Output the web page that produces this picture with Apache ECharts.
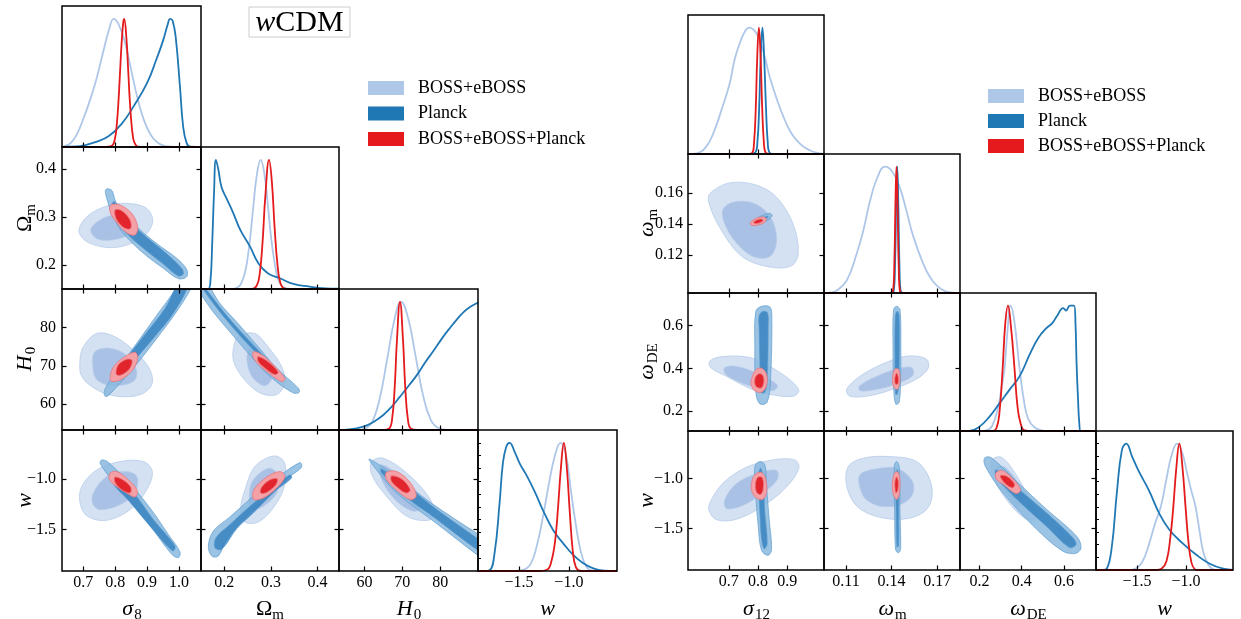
<!DOCTYPE html>
<html><head><meta charset="utf-8">
<script src="https://cdn.jsdelivr.net/npm/echarts@6.0.0/dist/echarts.min.js"></script>
<style>html,body{margin:0;padding:0;background:#fff}#c{width:1241px;height:619px}</style>
</head><body><div id="c"></div>
<script>
// ---------------- axis ranges & ticks ----------------
const s8Range = [0.633, 1.069], s8Ticks = [0.7, 0.8, 0.9, 1.0], s8Labels = ['0.7', '0.8', '0.9', '1.0'];
const OmRange = [0.15, 0.446], OmTicks = [0.2, 0.3, 0.4], OmLabels = ['0.2', '0.3', '0.4'];
const H0Range = [53.3, 90.0], H0Ticks = [60, 70, 80], H0Labels = ['60', '70', '80'];
const wRangeL = [-1.91, -0.518], wTicks = [-1.5, -1.0], wLabels = ['\u22121.5', '\u22121.0'];
const s12Range = [0.56, 1.026], s12Ticks = [0.7, 0.8, 0.9], s12Labels = ['0.7', '0.8', '0.9'];
const wmRange = [0.0955, 0.185];
const wmXTicks = [0.11, 0.14, 0.17], wmXLabels = ['0.11', '0.14', '0.17'];
const wmYTicks = [0.12, 0.14, 0.16], wmYLabels = ['0.12', '0.14', '0.16'];
const wDERange = [0.108, 0.752], wDETicks = [0.2, 0.4, 0.6], wDELabels = ['0.2', '0.4', '0.6'];
const wRangeR = [-1.92, -0.52];
const densityRange = [0, 1.1];
const wDensityTicks = [0.1, 0.2, 0.3, 0.4, 0.5, 0.6, 0.7, 0.8, 0.9, 1.0];

const legendLabels = ['BOSS+eBOSS', 'Planck', 'BOSS+eBOSS+Planck'];
const titleParts = ['w', 'CDM'];

// ---------------- 1D marginals (left: wCDM sigma8 set) ----------------
const s8_boss = [[0.633,0],[0.64,0.005],[0.66,0.03],[0.68,0.10],[0.70,0.22],[0.72,0.36],[0.74,0.52],[0.76,0.72],[0.78,0.91],[0.795,1.0],[0.81,0.96],[0.83,0.82],[0.85,0.60],[0.87,0.38],[0.89,0.21],[0.91,0.10],[0.93,0.04],[0.95,0.012],[0.97,0.003],[1.0,0],[1.069,0]];
const s8_planck = [[0.633,0],[0.68,0.004],[0.70,0.012],[0.74,0.04],[0.78,0.085],[0.82,0.18],[0.857,0.315],[0.90,0.50],[0.93,0.69],[0.95,0.83],[0.965,0.96],[0.972,1.0],[0.98,0.985],[0.99,0.85],[1.003,0.47],[1.013,0.16],[1.024,0.03],[1.035,0.003],[1.069,0]];
const s8_red = [[0.633,0],[0.77,0],[0.79,0.01],[0.80,0.078],[0.805,0.18],[0.81,0.35],[0.815,0.58],[0.82,0.81],[0.825,0.97],[0.828,1.0],[0.835,0.85],[0.84,0.63],[0.845,0.39],[0.85,0.21],[0.855,0.09],[0.86,0.036],[0.87,0.003],[0.89,0],[1.069,0]];

const Om_boss = [[0.15,0],[0.215,0],[0.225,0.006],[0.235,0.035],[0.245,0.14],[0.25,0.24],[0.255,0.38],[0.262,0.63],[0.27,0.89],[0.278,1.0],[0.286,0.89],[0.294,0.63],[0.30,0.41],[0.308,0.20],[0.316,0.07],[0.326,0.015],[0.34,0],[0.446,0]];
const Om_planck = [[0.15,0],[0.165,0],[0.170,0.05],[0.174,0.35],[0.178,0.75],[0.182,1.0],[0.187,0.93],[0.194,0.79],[0.205,0.70],[0.219,0.59],[0.234,0.46],[0.255,0.33],[0.273,0.20],[0.294,0.12],[0.319,0.083],[0.348,0.039],[0.383,0.018],[0.41,0.006],[0.446,0.002]];
const Om_red = [[0.15,0],[0.26,0],[0.27,0.03],[0.276,0.12],[0.282,0.36],[0.288,0.72],[0.296,1.0],[0.302,0.83],[0.308,0.47],[0.314,0.19],[0.32,0.05],[0.328,0.005],[0.34,0],[0.446,0]];

const H0_boss = [[53.3,0],[58,0],[60,0.01],[62,0.06],[64,0.24],[66,0.55],[68,0.87],[69.7,1.0],[71.5,0.88],[73.5,0.58],[75.5,0.27],[77.5,0.08],[79.5,0.015],[82,0],[90,0]];
const H0_planck = [[53.3,0],[56,0.004],[59.7,0.026],[62.5,0.065],[65,0.117],[67.3,0.185],[69.4,0.26],[71.7,0.345],[73.9,0.43],[76,0.525],[78.3,0.62],[80.5,0.715],[82.7,0.80],[84.5,0.865],[86.2,0.92],[88.2,0.965],[90,0.995]];
const H0_red = [[53.3,0],[65,0],[66.5,0.01],[67.3,0.08],[68,0.33],[68.6,0.70],[69.4,1.0],[70.2,0.70],[70.8,0.33],[71.5,0.08],[72.3,0.01],[74,0],[90,0]];

const wL_boss = [[-1.91,0],[-1.55,0],[-1.45,0.01],[-1.38,0.06],[-1.32,0.2],[-1.26,0.42],[-1.20,0.68],[-1.14,0.90],[-1.083,1.0],[-1.03,0.91],[-0.98,0.63],[-0.93,0.36],[-0.88,0.15],[-0.83,0.04],[-0.78,0.005],[-0.7,0],[-0.518,0]];
const wL_planck = [[-1.91,0],[-1.85,0],[-1.795,0.005],[-1.744,0.14],[-1.694,0.53],[-1.661,0.84],[-1.627,0.97],[-1.594,1.0],[-1.543,0.93],[-1.493,0.84],[-1.426,0.75],[-1.342,0.62],[-1.26,0.475],[-1.158,0.32],[-1.057,0.216],[-0.957,0.125],[-0.856,0.06],[-0.756,0.02],[-0.65,0.003],[-0.518,0]];
const wL_red = [[-1.91,0],[-1.3,0],[-1.22,0.01],[-1.18,0.06],[-1.14,0.22],[-1.11,0.48],[-1.08,0.80],[-1.05,1.0],[-1.02,0.80],[-0.99,0.45],[-0.96,0.15],[-0.93,0.03],[-0.89,0.002],[-0.85,0],[-0.518,0]];

// ---------------- 1D marginals (right: sigma12 set) ----------------
const s12_boss = [[0.56,0],[0.59,0.005],[0.62,0.05],[0.646,0.16],[0.675,0.35],[0.703,0.56],[0.72,0.75],[0.738,0.88],[0.755,0.97],[0.77,1.0],[0.79,0.97],[0.806,0.90],[0.825,0.75],[0.84,0.61],[0.862,0.45],[0.886,0.30],[0.91,0.18],[0.932,0.11],[0.955,0.06],[0.977,0.03],[1.0,0.01],[1.026,0]];
const s12_planck = [[0.56,0],[0.77,0],[0.79,0.01],[0.798,0.10],[0.804,0.38],[0.809,0.76],[0.815,1.0],[0.821,0.76],[0.827,0.38],[0.833,0.10],[0.84,0.01],[0.86,0],[1.026,0]];
const s12_red = [[0.56,0],[0.76,0],[0.78,0.01],[0.786,0.08],[0.792,0.35],[0.797,0.75],[0.803,1.0],[0.809,0.75],[0.814,0.38],[0.82,0.09],[0.826,0.01],[0.84,0],[1.026,0]];

const wm_boss = [[0.0955,0],[0.100,0.005],[0.104,0.02],[0.1105,0.10],[0.117,0.31],[0.1215,0.50],[0.1258,0.73],[0.1305,0.91],[0.1356,1.0],[0.1405,0.96],[0.1455,0.83],[0.150,0.64],[0.1542,0.45],[0.1608,0.23],[0.165,0.13],[0.1696,0.06],[0.175,0.015],[0.18,0.003],[0.185,0]];
const wm_planck = [[0.0955,0],[0.139,0],[0.1413,0.01],[0.1423,0.25],[0.143,0.72],[0.1437,1.0],[0.1444,0.72],[0.1451,0.25],[0.1461,0.01],[0.15,0],[0.185,0]];
const wm_red = [[0.0955,0],[0.138,0],[0.1408,0.01],[0.1418,0.25],[0.1425,0.70],[0.1432,1.0],[0.1439,0.70],[0.1446,0.25],[0.1456,0.01],[0.149,0],[0.185,0]];

const wDE_boss = [[0.108,0],[0.2,0],[0.232,0.005],[0.26,0.04],[0.29,0.2],[0.305,0.35],[0.319,0.5],[0.333,0.8],[0.348,1.0],[0.365,0.88],[0.39,0.5],[0.41,0.25],[0.43,0.1],[0.46,0.03],[0.494,0.005],[0.52,0],[0.752,0]];
const wDE_planck = [[0.108,0],[0.152,0],[0.2,0.035],[0.248,0.115],[0.295,0.22],[0.343,0.33],[0.39,0.435],[0.438,0.61],[0.478,0.74],[0.517,0.82],[0.545,0.86],[0.565,0.91],[0.597,0.98],[0.61,0.96],[0.629,1.0],[0.648,1.0],[0.655,0.85],[0.66,0.54],[0.667,0.25],[0.673,0.06],[0.68,0],[0.752,0]];
const wDE_red = [[0.108,0],[0.26,0],[0.28,0.02],[0.295,0.15],[0.31,0.5],[0.322,0.85],[0.335,1.0],[0.35,0.82],[0.366,0.5],[0.38,0.2],[0.395,0.06],[0.414,0.005],[0.45,0],[0.752,0]];

const wR_boss = [[-1.92,0],[-1.6,0],[-1.52,0.01],[-1.45,0.06],[-1.38,0.2],[-1.32,0.36],[-1.258,0.5],[-1.20,0.72],[-1.15,0.90],[-1.092,1.0],[-1.04,0.93],[-0.99,0.77],[-0.95,0.64],[-0.903,0.5],[-0.86,0.3],[-0.82,0.13],[-0.77,0.04],[-0.724,0.005],[-0.68,0],[-0.52,0]];
const wR_planck = [[-1.92,0],[-1.85,0.001],[-1.81,0.01],[-1.759,0.18],[-1.707,0.61],[-1.655,0.95],[-1.61,1.0],[-1.552,0.90],[-1.482,0.78],[-1.379,0.63],[-1.275,0.45],[-1.172,0.32],[-1.034,0.21],[-0.895,0.12],[-0.758,0.05],[-0.62,0.01],[-0.52,0]];
const wR_red = [[-1.92,0],[-1.3,0],[-1.25,0.01],[-1.2,0.07],[-1.16,0.26],[-1.13,0.5],[-1.1,0.8],[-1.068,1.0],[-1.035,0.8],[-1.005,0.5],[-0.975,0.22],[-0.945,0.06],[-0.913,0.008],[-0.88,0],[-0.52,0]];

// ---------------- 2D contours [95%, 68%] (left) ----------------
const L_s8_Om = {
  boss: [[[0.6865,0.2694],[0.7107,0.3006],[0.7733,0.3229],[0.836,0.3285],[0.8987,0.318],[0.9175,0.2902],[0.888,0.259],[0.8047,0.2369],[0.721,0.2452]],
         [[0.7232,0.2729],[0.7523,0.2938],[0.7994,0.3042],[0.8464,0.2938],[0.8567,0.2729],[0.815,0.2556],[0.747,0.2535]]],
  planck: [[[0.7753,0.359],[0.790,0.3548],[0.7994,0.3354],[0.8172,0.3131],[0.8517,0.2902],[0.888,0.2673],[0.9404,0.2396],[0.9928,0.214],[1.024,0.191],[1.024,0.1756],[0.9978,0.1715],[0.9508,0.1931],[0.8987,0.2188],[0.8567,0.2438],[0.8172,0.2729],[0.789,0.3077],[0.7733,0.339],[0.769,0.3548]],
           [[0.794,0.3319],[0.8047,0.3271],[0.8464,0.2902],[0.8987,0.2577],[0.9561,0.2265],[1.0084,0.1931],[1.0135,0.1812],[0.9978,0.1771],[0.9508,0.2021],[0.888,0.2348],[0.8411,0.2625],[0.7994,0.2972],[0.79,0.3229]]],
  red: [[[0.7858,0.325],[0.815,0.325],[0.8517,0.3077],[0.8704,0.2798],[0.862,0.2625],[0.836,0.2673],[0.8025,0.2902],[0.7837,0.311]],
        [[0.7994,0.3146],[0.8204,0.3131],[0.8464,0.2938],[0.8486,0.2764],[0.8307,0.2764],[0.8047,0.2938]]]
};
const L_s8_H0 = {
  boss: [[[0.70,74.97],[0.742,78.43],[0.7994,77.56],[0.8674,73.26],[0.909,68.97],[0.9144,65.1],[0.8777,62.5],[0.8047,62.09],[0.742,63.8],[0.695,67.25],[0.6896,71.55]],
         [[0.7366,73.7],[0.7837,74.55],[0.8411,72.4],[0.8674,68.5],[0.8567,65.95],[0.794,64.85],[0.742,66.4],[0.7295,70.26]]],
  planck: [[[0.765,62.7],[0.771,64.5],[0.815,69.83],[0.867,75.84],[0.930,83.14],[0.993,90.5],[1.008,93.9],[1.055,93.9],[1.034,89.6],[0.988,83.58],[0.930,77.13],[0.878,71.55],[0.820,65.95],[0.784,62.7],[0.771,62.0]],
           [[0.83,68.5],[0.826,70.5],[0.885,77.3],[0.955,84.8],[1.0,91.5],[1.03,91.5],[0.985,84.0],[0.918,77.0],[0.856,70.8],[0.842,68.3]]],
  red: [[[0.7837,66.75],[0.794,69.66],[0.8276,72.24],[0.862,73.53],[0.8704,71.98],[0.8547,68.97],[0.8203,66.5],[0.789,65.9]],
        [[0.8025,67.94],[0.8097,70.26],[0.836,71.7],[0.8527,71.38],[0.8442,69.14],[0.815,67.5]]]
};
const L_s8_w = {
  boss: [[[0.695,-1.075],[0.742,-0.912],[0.815,-0.830],[0.888,-0.830],[0.9163,-0.928],[0.8987,-1.108],[0.8464,-1.304],[0.7733,-1.409],[0.7126,-1.369],[0.6896,-1.238]],
         [[0.7313,-1.14],[0.7733,-0.977],[0.8307,-0.928],[0.8674,-0.977],[0.862,-1.14],[0.815,-1.255],[0.7523,-1.304],[0.7295,-1.245]]],
  planck: [[[0.7577,-0.814],[0.7753,-0.830],[0.8464,-1.049],[0.909,-1.288],[0.9665,-1.549],[1.0031,-1.722],[0.9978,-1.778],[0.9771,-1.745],[0.9144,-1.484],[0.8464,-1.222],[0.789,-1.01],[0.7523,-0.846]],
           [[0.7962,-0.961],[0.8567,-1.134],[0.9194,-1.402],[0.9875,-1.664],[0.9802,-1.712],[0.909,-1.467],[0.8411,-1.212],[0.7921,-1.042]]],
  red: [[[0.7837,-0.944],[0.8047,-0.928],[0.8411,-1.01],[0.8693,-1.118],[0.862,-1.18],[0.836,-1.14],[0.7994,-1.065],[0.7816,-1.003]],
        [[0.7994,-0.983],[0.8235,-1.01],[0.8486,-1.082],[0.8464,-1.14],[0.8203,-1.108],[0.7994,-1.036]]]
};
const L_Om_H0 = {
  boss: [[[0.2336,78.0],[0.2657,78.4],[0.2908,75.4],[0.3229,69.8],[0.33,65.5],[0.3122,62.5],[0.2764,62.96],[0.2407,66.8],[0.2193,71.5],[0.2229,76.3]],
         [[0.2535,74.5],[0.2728,74.1],[0.2942,70.7],[0.3015,66.8],[0.2872,64.85],[0.2621,66.8],[0.2493,70.7]]],
  planck: [[[0.3585,64.25],[0.3606,63.1],[0.3478,62.96],[0.2979,67.25],[0.255,72.8],[0.2122,78.8],[0.1764,84.0],[0.1516,88.3],[0.1409,90.4],[0.148,92.2],[0.1657,90.9],[0.1908,86.2],[0.2266,81.4],[0.2694,75.4],[0.3122,69.4]],
           [[0.3193,68.1],[0.3229,67.1],[0.2657,73.7],[0.2051,81.86],[0.1587,89.2],[0.1516,91.3],[0.2051,83.1],[0.2621,75.4]]],
  red: [[[0.2636,73.7],[0.2835,72.6],[0.3122,69.4],[0.33,66.6],[0.3229,65.9],[0.2979,67.9],[0.2707,70.7],[0.2608,72.6]],
        [[0.2728,72.4],[0.2979,70.7],[0.3156,68.3],[0.3086,67.7],[0.2872,69.4],[0.2728,71.1]]]
};
const L_Om_w = {
  boss: [[[0.2657,-0.879],[0.305,-0.775],[0.3278,-0.83],[0.33,-1.042],[0.3122,-1.238],[0.2764,-1.418],[0.2443,-1.428],[0.2351,-1.304],[0.2443,-1.108]],
         [[0.2621,-1.01],[0.2964,-0.895],[0.3156,-0.971],[0.3122,-1.14],[0.2835,-1.271],[0.2587,-1.297],[0.2535,-1.173]]],
  planck: [[[0.173,-1.762],[0.1657,-1.664],[0.1764,-1.516],[0.2122,-1.376],[0.2621,-1.173],[0.3122,-0.993],[0.3621,-0.84],[0.3657,-0.885],[0.3407,-0.977],[0.2908,-1.19],[0.2407,-1.402],[0.2051,-1.598],[0.1871,-1.762]],
           [[0.18,-1.68],[0.1822,-1.582],[0.2122,-1.451],[0.255,-1.271],[0.305,-1.082],[0.3407,-0.961],[0.3443,-0.993],[0.3086,-1.124],[0.2621,-1.337],[0.2266,-1.493],[0.1944,-1.696]]],
  red: [[[0.2657,-1.091],[0.2908,-0.983],[0.3193,-0.928],[0.33,-0.977],[0.3122,-1.091],[0.2835,-1.19],[0.2636,-1.206],[0.2608,-1.157]],
        [[0.28,-1.082],[0.2979,-1.01],[0.3135,-1.0],[0.3107,-1.059],[0.2908,-1.134],[0.2779,-1.14]]]
};
const L_H0_w = {
  boss: [[[61.96,-0.83],[65.03,-0.797],[71.2,-0.944],[76.9,-1.173],[78.44,-1.337],[76.9,-1.409],[71.2,-1.369],[65.5,-1.157],[61.96,-0.961]],
         [[64.15,-0.863],[68.56,-0.944],[73.4,-1.124],[75.2,-1.271],[72.96,-1.32],[68.1,-1.206],[64.6,-1.01]]],
  planck: [[[61.3,-0.804],[68.56,-0.977],[77.4,-1.232],[90.2,-1.549],[92.8,-1.598],[92.8,-1.827],[90.2,-1.762],[78.25,-1.418],[68.56,-1.14],[61.96,-0.853]],
           [[64.5,-0.9],[72.1,-1.095],[79.15,-1.304],[90.2,-1.598],[92.8,-1.664],[92.8,-1.762],[90.2,-1.712],[78.25,-1.376],[71.2,-1.185],[64.5,-0.94]]],
  red: [[[65.74,-0.938],[68.56,-0.928],[72.1,-1.036],[73.7,-1.167],[72.1,-1.206],[68.56,-1.114],[65.9,-1.01]],
        [[67.2,-0.971],[69.9,-1.003],[72.1,-1.108],[71.0,-1.14],[68.4,-1.075],[67.06,-1.016]]]
};

// ---------------- 2D contours [95%, 68%] (right) ----------------
const R_s12_wm = {
  boss: [[[0.635,0.1595],[0.7034,0.1664],[0.7948,0.1649],[0.8633,0.1572],[0.9203,0.1398],[0.9374,0.1201],[0.9089,0.1125],[0.8175,0.1131],[0.7377,0.1201],[0.6692,0.1376],[0.6325,0.1529]],
         [[0.6805,0.1496],[0.7263,0.1544],[0.7948,0.1525],[0.8462,0.1431],[0.8633,0.1289],[0.8404,0.119],[0.7832,0.119],[0.7263,0.1277],[0.6863,0.1398]]],
  planck: [[[0.7742,0.1402],[0.8005,0.1441],[0.8381,0.1468],[0.8484,0.1452],[0.8233,0.1413],[0.7856,0.1391]],
           [[0.789,0.1415],[0.8175,0.1441],[0.8346,0.1448],[0.8199,0.142],[0.7948,0.1402]]],
  red: [[[0.7742,0.1409],[0.8005,0.1441],[0.8267,0.1439],[0.8233,0.1411],[0.7948,0.1391],[0.7765,0.1393]],
        [[0.7856,0.1413],[0.8062,0.1431],[0.8175,0.1424],[0.8062,0.1407],[0.789,0.1402]]]
};
const R_s12_wDE = {
  boss: [[[0.635,0.4352],[0.6805,0.4556],[0.7719,0.4509],[0.8404,0.4093],[0.9089,0.3472],[0.9397,0.2963],[0.9203,0.2704],[0.8518,0.2764],[0.7832,0.2995],[0.6921,0.363],[0.6373,0.4046]],
         [[0.6863,0.4046],[0.7263,0.4093],[0.7948,0.3782],[0.8655,0.3227],[0.8518,0.2963],[0.789,0.312],[0.7263,0.3426],[0.6863,0.3768]]],
  planck: [[[0.7925,0.6667],[0.812,0.69],[0.8404,0.687],[0.8473,0.6435],[0.8428,0.3505],[0.8313,0.2426],[0.8062,0.2347],[0.7925,0.2889],[0.789,0.5046]],
           [[0.8039,0.6468],[0.8175,0.6667],[0.8324,0.6593],[0.8346,0.5972],[0.8313,0.3505],[0.8233,0.2889],[0.8096,0.2889],[0.8062,0.4278],[0.8039,0.582]]],
  red: [[[0.7777,0.3505],[0.7925,0.3935],[0.812,0.4014],[0.8291,0.3736],[0.8291,0.3195],[0.812,0.2889],[0.789,0.2963],[0.7765,0.3227]],
        [[0.789,0.3505],[0.8005,0.3736],[0.8154,0.369],[0.8199,0.3352],[0.8108,0.3088],[0.7925,0.3167]]]
};
const R_s12_w = {
  boss: [[[0.635,-1.242],[0.6805,-1.043],[0.7606,-0.884],[0.8518,-0.811],[0.926,-0.811],[0.9397,-0.894],[0.8976,-1.083],[0.8175,-1.275],[0.7263,-1.408],[0.6579,-1.414],[0.6325,-1.325]],
         [[0.6863,-1.209],[0.7263,-1.05],[0.7948,-0.95],[0.8633,-0.917],[0.8655,-1.01],[0.8175,-1.142],[0.749,-1.268],[0.6921,-1.301]]],
  planck: [[[0.789,-0.878],[0.8062,-0.828],[0.8233,-0.861],[0.8291,-1.076],[0.8381,-1.408],[0.8462,-1.713],[0.8346,-1.772],[0.812,-1.723],[0.8005,-1.474],[0.7925,-1.176]],
           [[0.8005,-0.96],[0.8096,-0.894],[0.8175,-1.01],[0.8233,-1.341],[0.8313,-1.656],[0.8209,-1.706],[0.812,-1.606],[0.8062,-1.341],[0.8017,-1.076]]],
  red: [[[0.7777,-1.043],[0.789,-0.96],[0.812,-0.937],[0.8267,-1.01],[0.8291,-1.142],[0.8154,-1.209],[0.7925,-1.192],[0.7777,-1.116]],
        [[0.7914,-1.043],[0.8005,-0.983],[0.8154,-0.993],[0.8175,-1.109],[0.8085,-1.159],[0.7948,-1.136]]]
};
const R_wm_wDE = {
  boss: [[[0.1105,0.3042],[0.1214,0.3736],[0.1389,0.4352],[0.152,0.4583],[0.163,0.443],[0.164,0.4],[0.1564,0.3505],[0.1411,0.3042],[0.1258,0.2731],[0.1126,0.2704]],
         [[0.1187,0.3167],[0.1302,0.363],[0.1433,0.3968],[0.1531,0.4046],[0.1538,0.3659],[0.1411,0.3227],[0.1279,0.2995],[0.1192,0.2963]]],
  planck: [[[0.1413,0.6745],[0.1433,0.69],[0.1455,0.6745],[0.1461,0.5046],[0.1459,0.3505],[0.145,0.2426],[0.1428,0.2333],[0.1415,0.2889],[0.1409,0.5046]],
           [[0.1424,0.6435],[0.1437,0.6667],[0.145,0.6435],[0.1448,0.3505],[0.1439,0.281],[0.1426,0.281],[0.1422,0.4278]]],
  red: [[[0.1407,0.3659],[0.1422,0.3968],[0.1444,0.3968],[0.1455,0.3659],[0.145,0.3195],[0.1433,0.3011],[0.1411,0.3195]],
        [[0.1422,0.3582],[0.1433,0.3782],[0.1444,0.3582],[0.1441,0.3273],[0.1424,0.3273]]]
};
const R_wm_w = {
  boss: [[[0.1115,-0.878],[0.1214,-0.794],[0.1389,-0.778],[0.1564,-0.828],[0.1652,-1.01],[0.1663,-1.209],[0.1608,-1.341],[0.1476,-1.408],[0.1302,-1.381],[0.117,-1.275],[0.1105,-1.076]],
         [[0.1192,-0.96],[0.1302,-0.901],[0.1433,-0.894],[0.1531,-1.01],[0.1542,-1.142],[0.1476,-1.248],[0.1345,-1.282],[0.1236,-1.215],[0.1192,-1.093]]],
  planck: [[[0.1417,-0.878],[0.1433,-0.828],[0.145,-0.878],[0.1455,-1.341],[0.1459,-1.713],[0.1444,-1.746],[0.1426,-1.713],[0.142,-1.341]],
           [[0.1428,-0.96],[0.1437,-0.911],[0.1446,-0.96],[0.1446,-1.341],[0.1446,-1.673],[0.1435,-1.689],[0.143,-1.341]]],
  red: [[[0.1407,-1.01],[0.1422,-0.937],[0.1444,-0.937],[0.1455,-1.026],[0.145,-1.159],[0.1433,-1.209],[0.1411,-1.159],[0.1404,-1.076]],
        [[0.1422,-1.026],[0.1433,-0.983],[0.1444,-1.026],[0.1441,-1.116],[0.1428,-1.142],[0.1422,-1.093]]]
};
const R_wDE_w = {
  boss: [[[0.2603,-0.811],[0.3032,-0.784],[0.3587,-0.911],[0.4222,-1.142],[0.473,-1.341],[0.4619,-1.414],[0.4095,-1.391],[0.327,-1.209],[0.2635,-0.977]],
         [[0.2873,-0.878],[0.327,-0.894],[0.3825,-1.043],[0.4143,-1.209],[0.3825,-1.282],[0.3397,-1.176],[0.2921,-1.01]]],
  planck: [[[0.2238,-0.794],[0.2557,-0.788],[0.3748,-1.026],[0.5175,-1.308],[0.6605,-1.58],[0.681,-1.699],[0.6524,-1.755],[0.589,-1.723],[0.4538,-1.474],[0.311,-1.142],[0.2286,-0.878]],
           [[0.2795,-0.911],[0.4063,-1.142],[0.5333,-1.374],[0.6444,-1.6],[0.6571,-1.666],[0.6252,-1.693],[0.5175,-1.48],[0.3905,-1.235],[0.2795,-0.983]]],
  red: [[[0.2795,-0.937],[0.311,-0.92],[0.3667,-1.02],[0.3952,-1.116],[0.3714,-1.149],[0.3143,-1.06],[0.2795,-1.003]],
        [[0.2984,-0.97],[0.3302,-0.977],[0.3667,-1.057],[0.3556,-1.093],[0.319,-1.043]]]
};

// ---------------- styling ----------------
const FONT = '"Liberation Serif", "Times New Roman", serif';
const COL = {
  boss:   { line: '#aec7e8', outer: '#d4e1f3', inner: '#a9c1e5', edge: '#b5cbe9', op: 1 },
  planck: { line: '#1f77b4', outer: '#8ab9de', inner: '#3783bf', edge: '#5b9ccf', op: 0.85 },
  red:    { line: '#e41a1c', outer: '#f3a1a6', inner: '#e2252c', edge: '#e8757b', op: 1 }
};
const LEGEND_COLORS = ['#aec7e8', '#1f77b4', '#e41a1c'];
const ORDER = ['boss', 'planck', 'red'];

const option = { animation: false, backgroundColor: '#fff', grid: [], xAxis: [], yAxis: [], series: [], graphic: [] };

function fmt(ticks, labels) {
  return v => { for (let k = 0; k < ticks.length; k++) if (Math.abs(ticks[k] - v) < 1e-7) return labels[k]; return ''; };
}
function addGrid(l, t, w, h) {
  option.grid.push({ left: l, top: t, width: w, height: h, show: true, borderColor: '#000', borderWidth: 1.5, backgroundColor: 'transparent', z: 10 });
  return option.grid.length - 1;
}
function axisCfg(gi, range, ticks, labels, position, showLabel, margin) {
  return {
    type: 'value', gridIndex: gi, position, min: range[0], max: range[1], z: 10,
    axisLine: { show: false }, splitLine: { show: false },
    axisTick: { show: true, inside: true, length: 4.5, customValues: ticks, lineStyle: { color: '#000', width: 1.2 } },
    axisLabel: { show: showLabel, customValues: ticks, formatter: fmt(ticks, labels), fontFamily: FONT, fontSize: 16, color: '#000', margin }
  };
}
function lineSeries(xi, yi, data, color) {
  return { type: 'line', xAxisIndex: xi, yAxisIndex: yi, data, symbol: 'none', showSymbol: false, smooth: 0.45, silent: true, clip: true, lineStyle: { color, width: 1.8 } };
}
function polySeries(xi, yi, poly, fill, stroke, opacity) {
  return {
    type: 'custom', xAxisIndex: xi, yAxisIndex: yi, data: poly, encode: { x: 0, y: 1 }, silent: true, clip: true,
    renderItem: (params, api) => {
      if (params.dataIndex !== 0) return null;
      const pts = poly.map(p => api.coord(p));
      const cs = params.coordSys;
      return { type: 'group', clipPath: { type: 'rect', shape: { x: cs.x, y: cs.y, width: cs.width, height: cs.height } },
        children: [{ type: 'polygon', shape: { points: pts, smooth: 0.35 }, style: { fill, stroke, lineWidth: 0.8, opacity } }] };
    }
  };
}

function buildTriangle(T) {
  const n = T.params.length;
  for (let i = 0; i < n; i++) for (let j = 0; j <= i; j++) {
    const l = T.cols[j], t = T.rows[i], w = T.cols[j + 1] - T.cols[j], h = T.rows[i + 1] - T.rows[i];
    const gi = addGrid(l, t, w, h);
    const PX = T.params[j];
    option.xAxis.push(axisCfg(gi, PX.range, PX.xTicks, PX.xLabels, 'bottom', i === n - 1, 4));
    const xi = option.xAxis.length - 1;
    if (i === j) {
      option.yAxis.push({ type: 'value', gridIndex: gi, min: densityRange[0], max: densityRange[1], z: 10,
        axisLine: { show: false }, splitLine: { show: false }, axisLabel: { show: false },
        axisTick: { show: !!PX.densityTicks, inside: true, length: 3, customValues: PX.densityTicks || [], lineStyle: { color: '#000', width: 1 } } });
      const yi = option.yAxis.length - 1;
      ORDER.forEach(k => option.series.push(lineSeries(xi, yi, T.diag[i][k], COL[k].line)));
    } else {
      option.xAxis.push(axisCfg(gi, PX.range, PX.xTicks, PX.xLabels, 'top', false, 4));
      const PY = T.params[i];
      option.yAxis.push(axisCfg(gi, PY.range, PY.yTicks, PY.yLabels, 'left', j === 0, T.yMargin));
      const yi = option.yAxis.length - 1;
      option.yAxis.push(axisCfg(gi, PY.range, PY.yTicks, PY.yLabels, 'right', false, 4));
      const c = T.tri[i + '_' + j];
      ORDER.forEach(k => {
        option.series.push(polySeries(xi, yi, c[k][0], COL[k].outer, COL[k].edge, COL[k].op));
        option.series.push(polySeries(xi, yi, c[k][1], COL[k].inner, COL[k].edge, COL[k].op));
      });
    }
  }
}

const P = (range, xTicks, xLabels, yTicks, yLabels, densityTicks) => ({ range, xTicks, xLabels, yTicks: yTicks || xTicks, yLabels: yLabels || xLabels, densityTicks });

buildTriangle({
  cols: [62, 201, 339, 478, 617], rows: [6, 147, 289, 430, 571], yMargin: 6,
  params: [P(s8Range, s8Ticks, s8Labels), P(OmRange, OmTicks, OmLabels), P(H0Range, H0Ticks, H0Labels), P(wRangeL, wTicks, wLabels, null, null, wDensityTicks)],
  diag: [{ boss: s8_boss, planck: s8_planck, red: s8_red }, { boss: Om_boss, planck: Om_planck, red: Om_red },
         { boss: H0_boss, planck: H0_planck, red: H0_red }, { boss: wL_boss, planck: wL_planck, red: wL_red }],
  tri: { '1_0': L_s8_Om, '2_0': L_s8_H0, '3_0': L_s8_w, '2_1': L_Om_H0, '3_1': L_Om_w, '3_2': L_H0_w }
});
buildTriangle({
  cols: [688, 824, 960, 1096, 1233], rows: [15, 154, 293, 431, 570], yMargin: 5,
  params: [P(s12Range, s12Ticks, s12Labels), P(wmRange, wmXTicks, wmXLabels, wmYTicks, wmYLabels), P(wDERange, wDETicks, wDELabels), P(wRangeR, wTicks, wLabels, null, null, wDensityTicks)],
  diag: [{ boss: s12_boss, planck: s12_planck, red: s12_red }, { boss: wm_boss, planck: wm_planck, red: wm_red },
         { boss: wDE_boss, planck: wDE_planck, red: wDE_red }, { boss: wR_boss, planck: wR_planck, red: wR_red }],
  tri: { '1_0': R_s12_wm, '2_0': R_s12_wDE, '3_0': R_s12_w, '2_1': R_wm_wDE, '3_1': R_wm_w, '3_2': R_wDE_w }
});

// ---------------- text: axis names, legend, title ----------------
const mctx = document.createElement('canvas').getContext('2d');
function tw(font, s) { mctx.font = font; return mctx.measureText(s).width; }
function txt(x, y, text, font) {
  return { type: 'text', x, y, silent: true, style: { text, font, fill: '#000', textAlign: 'left', textVerticalAlign: 'middle', align: 'left', verticalAlign: 'middle' } };
}
function mathLabel(cx, cy, main, sub, italic, rotate, size, subSize, subDy) {
  const fMain = (italic ? 'italic ' : '') + size + 'px ' + FONT;
  const fSub = subSize + 'px ' + FONT;
  const wm = tw(fMain, main), ws = sub ? tw(fSub, sub) : 0;
  const x0 = -(wm + ws) / 2;
  const children = [txt(x0, 0, main, fMain)];
  if (sub) children.push(txt(x0 + wm + (italic ? 1 : 0), subDy, sub, fSub));
  return { type: 'group', x: cx, y: cy, rotation: rotate ? Math.PI / 2 : 0, children };
}
const leftNames = [['\u03c3', '8', true], ['\u03a9', 'm', false], ['H', '0', true], ['w', '', true]];
const rightNames = [['\u03c3', '12', true], ['\u03c9', 'm', true], ['\u03c9', 'DE', true], ['w', '', true]];
function names(cols, rows, nm, yx) {
  for (let j = 0; j < 4; j++) option.graphic.push(mathLabel((cols[j] + cols[j + 1]) / 2, 609, nm[j][0], nm[j][1], nm[j][2], false, 22, 15, 6));
  for (let i = 1; i < 4; i++) option.graphic.push(mathLabel(yx, (rows[i] + rows[i + 1]) / 2, nm[i][0], nm[i][1], nm[i][2], true, 22, 15, 6));
}
names([62, 201, 339, 478, 617], [6, 147, 289, 430, 571], leftNames, 25);
names([688, 824, 960, 1096, 1233], [15, 154, 293, 431, 570], rightNames, 647);

function legend(x, y0, gap) {
  legendLabels.forEach((lab, k) => {
    option.graphic.push({ type: 'rect', silent: true, shape: { x, y: y0 + k * gap - 7, width: 36, height: 14 }, style: { fill: LEGEND_COLORS[k] } });
    option.graphic.push(txt(x + 50, y0 + k * gap, lab, '18px ' + FONT));
  });
}
legend(368, 88, 25.5);
legend(988, 96, 25);

// title box
(function () {
  const fI = 'italic 30px ' + FONT, fR = '30px ' + FONT;
  const w1 = tw(fI, titleParts[0]), w2 = tw(fR, titleParts[1]);
  const cx = 299.5, cy = 22.5, x0 = cx - (w1 + w2) / 2;
  option.graphic.push({ type: 'rect', silent: true, shape: { x: 249, y: 7, width: 101, height: 30 }, style: { fill: '#fff', stroke: '#cccccc', lineWidth: 1 } });
  option.graphic.push(txt(x0, cy + 1, titleParts[0], fI));
  option.graphic.push(txt(x0 + w1, cy + 1, titleParts[1], fR));
})();

const chart = echarts.init(document.getElementById('c'), null, { renderer: 'canvas', width: 1241, height: 619 });
chart.setOption(option);
</script></body></html>
